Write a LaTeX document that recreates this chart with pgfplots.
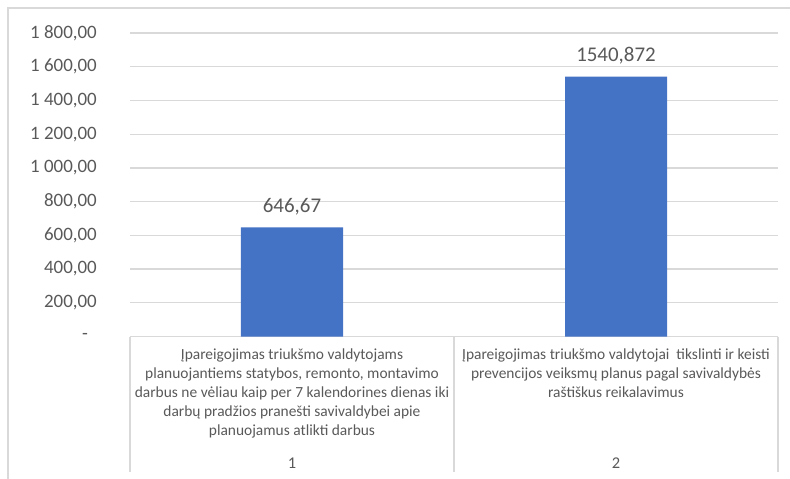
\documentclass[border=0pt]{standalone}
\usepackage{fontspec}
\setmainfont{Carlito}
\usepackage{pgfplots}
\pgfplotsset{compat=1.18}

\definecolor{barblue}{HTML}{4472C4}
\definecolor{txtgray}{HTML}{595959}
\definecolor{gridgray}{HTML}{D9D9D9}

\begin{document}
\begin{tikzpicture}
  % picture frame: 790 x 479, axis lower-left at (0,0)
  \useasboundingbox (-130bp,-142.5bp) rectangle (660bp,336.5bp);
  \draw[gridgray, line width=1.5bp] (-122bp,-142.5bp) -- (-122bp,328.5bp) -- (660bp,328.5bp);

  \begin{axis}[
      at={(0,0)}, anchor=south west,
      scale only axis,
      width=648bp, height=303.5bp,
      xmin=-0.5, xmax=1.5,
      ymin=0, ymax=1800,
      ybar, bar width=102bp,
      clip=false,
      axis line style={draw=none},
      major tick length=0pt,
      ymajorgrids,
      grid style={gridgray, line width=1.3bp},
      ytick={0,200,...,1800},
      yticklabels={{-\hspace*{9bp}},{200,00},{400,00},{600,00},{800,00},{1 000,00},{1 200,00},{1 400,00},{1 600,00},{1 800,00}},
      yticklabel style={font=\fontsize{19}{20}\selectfont, text=txtgray, inner sep=0pt, anchor=east, xshift=-33bp},
      xtick={0,1},
      xticklabels={
        {Įpareigojimas triukšmo valdytojams\\planuojantiems statybos, remonto, montavimo\\darbus ne vėliau kaip per 7 kalendorines dienas iki\\darbų pradžios pranešti savivaldybei apie\\planuojamus atlikti darbus},
        {Įpareigojimas triukšmo valdytojai\ \ tikslinti ir keisti\\prevencijos veiksmų planus pagal savivaldybės\\raštiškus reikalavimus}},
      xticklabel style={font=\fontsize{15.5}{19}\selectfont, text=txtgray, inner sep=0pt, anchor=north, align=center, yshift=-12bp},
      nodes near coords,
      nodes near coords style={font=\fontsize{21}{24}\selectfont, text=txtgray, inner sep=0pt, anchor=south, yshift=12bp,
        /pgf/number format/.cd, fixed, precision=3, use comma, 1000 sep={}, assume math mode=true},
    ]
    \addplot[fill=barblue, draw=none] coordinates {(0,646.67) (1,1540.872)};

    % category frame lines below the axis
    \draw[gridgray, line width=1.3bp] (axis cs:-0.5,0) -- ([yshift=-135.5bp]axis cs:-0.5,0);
    \draw[gridgray, line width=1.3bp] (axis cs:0.5,0) -- ([yshift=-135.5bp]axis cs:0.5,0);
    \draw[gridgray, line width=1.3bp] (axis cs:1.5,0) -- ([yshift=-135.5bp]axis cs:1.5,0);
    \node[text=txtgray, font=\fontsize{16.5}{19}\selectfont] at ([yshift=-127bp]axis cs:0,0) {1};
    \node[text=txtgray, font=\fontsize{16.5}{19}\selectfont] at ([yshift=-127bp]axis cs:1,0) {2};
  \end{axis}
\end{tikzpicture}
\end{document}
